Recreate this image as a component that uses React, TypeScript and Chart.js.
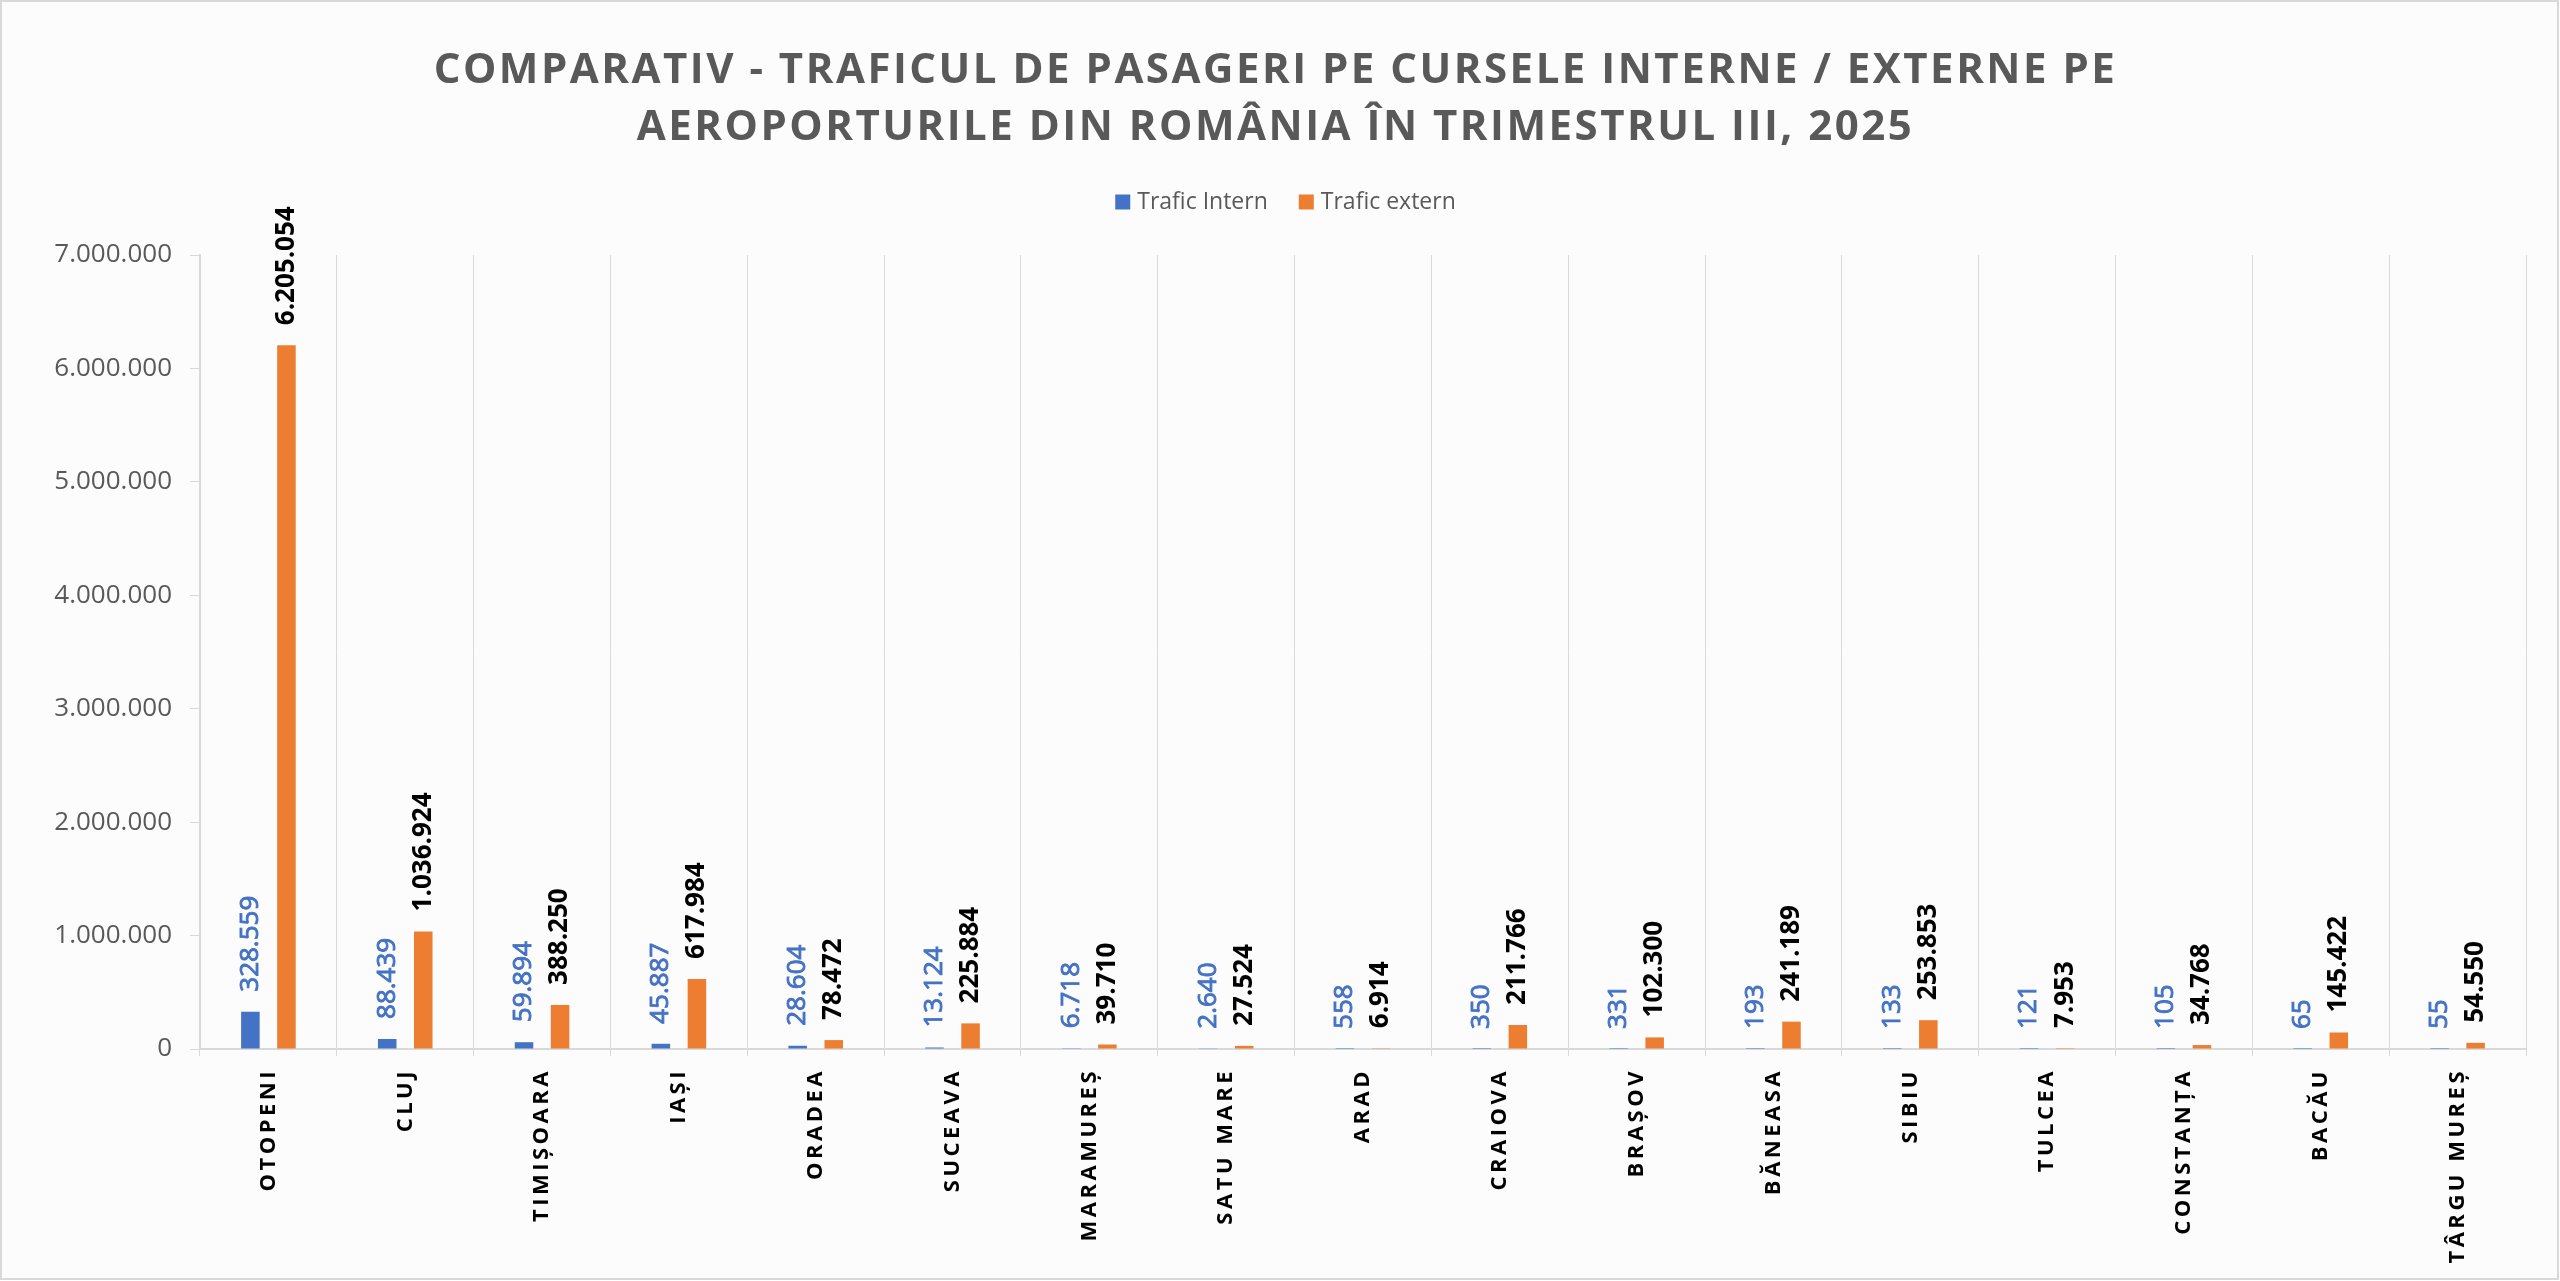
import React, { useEffect, useRef } from 'react';
import { Chart, registerables } from 'chart.js';

Chart.register(...registerables);

const categories = [
  'OTOPENI', 'CLUJ', 'TIMIȘOARA', 'IAȘI', 'ORADEA', 'SUCEAVA', 'MARAMUREȘ', 'SATU MARE', 'ARAD',
  'CRAIOVA', 'BRAȘOV', 'BĂNEASA', 'SIBIU', 'TULCEA', 'CONSTANȚA', 'BACĂU', 'TÂRGU MUREȘ',
];
const traficIntern = [328559, 88439, 59894, 45887, 28604, 13124, 6718, 2640, 558, 350, 331, 193, 133, 121, 105, 65, 55];
const traficExtern = [6205054, 1036924, 388250, 617984, 78472, 225884, 39710, 27524, 6914, 211766, 102300, 241189, 253853, 7953, 34768, 145422, 54550];
const seriesNames = ['Trafic Intern', 'Trafic extern'];
const seriesColors = ['#4472C4', '#ED7D31'];
const labelColors = ['#4472C4', '#000000'];
const titleLines = [
  'COMPARATIV - TRAFICUL DE PASAGERI PE CURSELE INTERNE / EXTERNE PE',
  'AEROPORTURILE DIN ROMÂNIA ÎN TRIMESTRUL III, 2025',
];
const yMin = 0;
const yMax = 7000000;
const yStep = 1000000;

const FONT = '"Open Sans", "Noto Sans", sans-serif';
const fmt = (n: number) => String(Math.round(n)).replace(/\B(?=(\d{3})+(?!\d))/g, '.');

const decorPlugin = {
  id: 'decor',
  afterDatasetsDraw(chart: any) {
    const ctx = chart.ctx as CanvasRenderingContext2D;
    ctx.save();
    (ctx as any).letterSpacing = '0px';
    chart.data.datasets.forEach((ds: any, di: number) => {
      const meta = chart.getDatasetMeta(di);
      meta.data.forEach((bar: any, i: number) => {
        const v = ds.data[i] as number;
        ctx.save();
        ctx.translate(bar.x, bar.y - 20);
        ctx.rotate(-Math.PI / 2);
        ctx.font = (di === 0 ? '' : 'bold ') + '26px ' + FONT;
        ctx.fillStyle = labelColors[di];
        ctx.textAlign = 'left';
        ctx.textBaseline = 'middle';
        ctx.fillText(fmt(v), 0, 0);
        if (di === 0) {
          ctx.strokeStyle = labelColors[di];
          ctx.lineWidth = 0.9;
          ctx.strokeText(fmt(v), 0, 0);
        }
        ctx.restore();
      });
    });
    ctx.restore();
    // letter spacing for the category labels drawn next (ticks z = 1)
    (ctx as any).letterSpacing = '3.5px';
  },
  afterDraw(chart: any) {
    const ctx = chart.ctx as CanvasRenderingContext2D;
    (ctx as any).letterSpacing = '0px';
    const cx = chart.width / 2 - 4;
    // title
    ctx.save();
    ctx.fillStyle = '#595959';
    ctx.font = 'bold 42px ' + FONT;
    (ctx as any).letterSpacing = '2.5px';
    ctx.textAlign = 'center';
    ctx.textBaseline = 'alphabetic';
    titleLines.forEach((line, k) => ctx.fillText(line, cx, 81 + k * 56.7));
    ctx.restore();
    // legend
    ctx.save();
    ctx.font = '23px ' + FONT;
    (ctx as any).letterSpacing = '0px';
    const box = 15, gapText = 7, gapItem = 31;
    const widths = seriesNames.map((s) => ctx.measureText(s).width);
    const total = widths.reduce((a, w) => a + box + gapText + w, 0) + gapItem * (seriesNames.length - 1);
    let x = chart.width / 2 + 6 - total / 2;
    const yc = 200;
    seriesNames.forEach((s, k) => {
      ctx.fillStyle = seriesColors[k];
      ctx.fillRect(x, yc - box / 2, box, box);
      x += box + gapText;
      ctx.fillStyle = '#595959';
      ctx.textAlign = 'left';
      ctx.textBaseline = 'middle';
      ctx.fillText(s, x, yc);
      x += widths[k] + gapItem;
    });
    ctx.restore();
  },
};

export default function App() {
  const ref = useRef<HTMLCanvasElement>(null);
  useEffect(() => {
    if (!ref.current) return;
    Chart.defaults.font.family = FONT;
    const chart = new Chart(ref.current, {
      type: 'bar',
      data: {
        labels: categories,
        datasets: [
          {
            label: seriesNames[0],
            data: traficIntern,
            backgroundColor: seriesColors[0],
            borderWidth: 0,
            categoryPercentage: 0.527,
            barPercentage: 0.514,
          },
          {
            label: seriesNames[1],
            data: traficExtern,
            backgroundColor: seriesColors[1],
            borderWidth: 0,
            categoryPercentage: 0.527,
            barPercentage: 0.514,
          },
        ],
      },
      options: {
        responsive: true,
        maintainAspectRatio: false,
        devicePixelRatio: 1,
        animation: false,
        layout: { padding: { top: 253, right: 31, left: 0, bottom: 0 } },
        plugins: {
          legend: { display: false },
          title: { display: false },
          tooltip: { enabled: false },
        },
        scales: {
          x: {
            grid: { offset: true, color: '#d9d9d9', lineWidth: 1, tickLength: 7, drawOnChartArea: true },
            border: { color: '#d9d9d9', width: 2 },
            ticks: {
              autoSkip: false,
              minRotation: 90,
              maxRotation: 90,
              color: '#000000',
              font: { size: 22, weight: 'bold', family: FONT },
              padding: 12,
              z: 1,
            },
            afterFit: (s: any) => { s.height = 229; },
          },
          y: {
            min: yMin,
            max: yMax,
            ticks: {
              stepSize: yStep,
              color: '#595959',
              font: { size: 26, family: FONT },
              padding: 18,
              callback: (v: any) => fmt(Number(v)),
            },
            grid: { drawOnChartArea: false, color: '#d9d9d9', tickLength: 10 },
            border: { color: '#d9d9d9', width: 2 },
            afterFit: (s: any) => { s.width = 198; },
          },
        },
      } as any,
      plugins: [decorPlugin],
    });
    return () => chart.destroy();
  }, []);
  return (
    <div
      style={{
        position: 'fixed',
        left: 0,
        top: 0,
        width: 2559,
        height: 1280,
        boxSizing: 'border-box',
        border: '2px solid #d9d9d9',
        background: '#fcfcfc',
      }}
    >
      <canvas ref={ref} />
    </div>
  );
}
